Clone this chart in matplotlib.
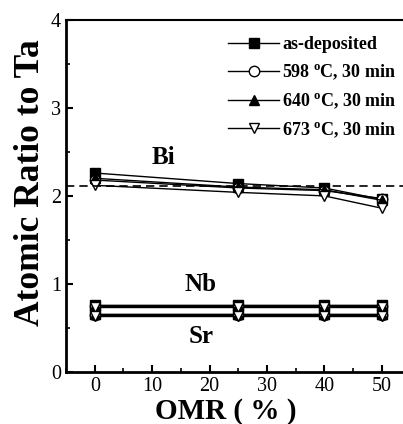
import matplotlib
matplotlib.use('Agg')
import matplotlib.pyplot as plt
from matplotlib.ticker import MultipleLocator

plt.rcParams['font.family'] = ['Liberation Serif', 'DejaVu Serif']
plt.rcParams['mathtext.fontset'] = 'custom'
plt.rcParams['mathtext.rm'] = 'Liberation Serif:bold'

# OMR (%)
omr = [0, 25, 40, 50]

# Bi / Ta
bi_asdep = [2.26, 2.14, 2.09, 1.96]
bi_598 = [2.18, 2.09, 2.06, 1.97]
bi_640 = [2.20, 2.10, 2.07, 1.95]
bi_673 = [2.12, 2.04, 2.00, 1.86]

# Nb / Ta
nb_asdep = [0.76, 0.76, 0.76, 0.76]
nb_598 = [0.75, 0.75, 0.75, 0.75]
nb_640 = [0.76, 0.76, 0.76, 0.76]
nb_673 = [0.74, 0.74, 0.74, 0.74]

# Sr / Ta
sr_asdep = [0.66, 0.66, 0.66, 0.66]
sr_598 = [0.65, 0.65, 0.65, 0.65]
sr_640 = [0.66, 0.66, 0.66, 0.66]
sr_673 = [0.64, 0.64, 0.64, 0.64]

bi_ref = 2.11

labels = ['as-deposited', '598 $^\\mathrm{o}$C, 30 min',
          '640 $^\\mathrm{o}$C, 30 min', '673 $^\\mathrm{o}$C, 30 min']
styles = [('s', 'black'), ('o', 'white'), ('^', 'black'), ('v', 'white')]

series = [
    (bi_asdep, nb_asdep, sr_asdep),
    (bi_598, nb_598, sr_598),
    (bi_640, nb_640, sr_640),
    (bi_673, nb_673, sr_673),
]

fig = plt.figure(figsize=(4.03, 4.24), dpi=100)
ax = fig.add_axes([0.164, 0.123, 0.836, 0.830])

for (bi, nb, sr), (m, fc), lab in zip(series, styles, labels):
    kw = dict(color='black', lw=1.0, marker=m, markersize=7.5,
              markerfacecolor=fc, markeredgecolor='black', markeredgewidth=1.0)
    ax.plot(omr, bi, label=lab, **kw)
    ax.plot(omr, nb, **kw)
    ax.plot(omr, sr, **kw)

ax.axhline(bi_ref, color='black', lw=1.2, ls=(0, (5, 3)))

ax.text(12, 2.44, 'Bi', fontsize=18, fontweight='bold', ha='center', va='center')
ax.text(18.5, 0.99, 'Nb', fontsize=18, fontweight='bold', ha='center', va='center')
ax.text(18.5, 0.40, 'Sr', fontsize=18, fontweight='bold', ha='center', va='center')

ax.set_xlim(-5, 53.7)
ax.set_ylim(0, 4)
ax.xaxis.set_major_locator(MultipleLocator(10))
ax.xaxis.set_minor_locator(MultipleLocator(5))
ax.yaxis.set_major_locator(MultipleLocator(1))
ax.yaxis.set_minor_locator(MultipleLocator(0.5))
ax.tick_params(which='both', direction='in', top=False, right=False, labelsize=14.5)
ax.tick_params(which='major', length=5, width=1.5)
ax.tick_params(which='minor', length=3, width=1.2)
ax.spines['right'].set_visible(False)
for s in ['left', 'bottom']:
    ax.spines[s].set_linewidth(2.0)
ax.spines['top'].set_linewidth(1.5)

ax.set_xlabel('OMR ( % )', fontsize=21, fontweight='bold', labelpad=0)
ax.xaxis.set_label_coords(0.475, -0.075)
ax.set_ylabel('Atomic Ratio to Ta', fontsize=25.5, fontweight='bold', labelpad=0)
ax.yaxis.set_label_coords(-0.058, 0.537)

leg = ax.legend(loc='upper left', bbox_to_anchor=(0.46, 0.975), frameon=False,
                prop={'weight': 'bold', 'size': 13}, handlelength=2.8,
                handletextpad=0.2, labelspacing=0.5, borderaxespad=0)

fig.savefig('out.png', dpi=100)
